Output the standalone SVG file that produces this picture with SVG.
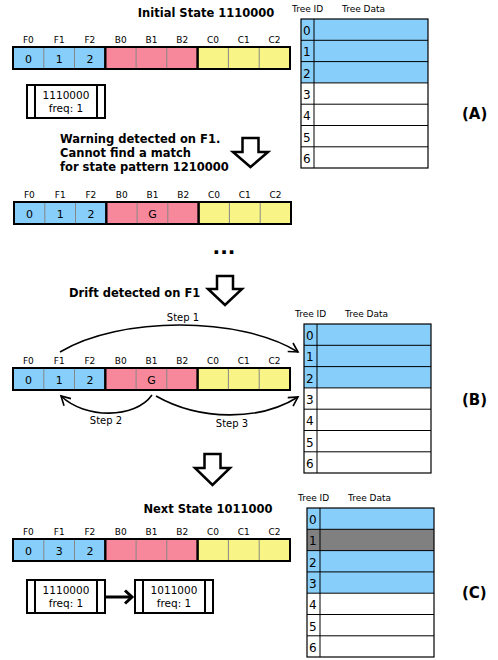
<svg xmlns="http://www.w3.org/2000/svg" width="498" height="660" viewBox="0 0 498 660">
  <style>
    text { font-family: "DejaVu Sans", "Liberation Sans", sans-serif; fill: #000; }
    .lbl { font-size: 9px; text-anchor: middle; }
    .val { font-size: 11px; text-anchor: middle; }
    .title { font-size: 11.5px; font-weight: bold; }
    .mid { text-anchor: middle; }
    .tag { font-size: 15px; font-weight: bold; }
    .hdr { font-size: 9px; }
    .tid { font-size: 12px; }
    .frq { font-size: 10.5px; text-anchor: middle; }
    .step { font-size: 10px; text-anchor: middle; }
    .f { fill: #87cefa; }
    .b { fill: #f7889c; }
    .c { fill: #f8f586; }
    .div { stroke: #888; stroke-width: 1; }
    .grp { stroke: #000; stroke-width: 2; fill: none; }
    .row { stroke: #000; stroke-width: 1; }
    .blue { fill: #87cefa; }
    .gray { fill: #808080; }
    .white { fill: #fff; }
    .block { fill: #fff; stroke: #000; stroke-width: 2.5; stroke-linejoin: miter; }
    .box { fill: #fff; stroke: #000; stroke-width: 2; }
    .arc { fill: none; stroke: #000; stroke-width: 1.6; }
  </style>
  <defs>
    <marker id="open" markerUnits="userSpaceOnUse" markerWidth="14" markerHeight="14" refX="10" refY="6" orient="auto">
      <path d="M1,1 L10,6 L1,11" fill="none" stroke="#000" stroke-width="1.6"/>
    </marker>
    <!-- state vector: three groups of three cells -->
    <g id="bar">
      <rect x="0" y="0" width="92.3" height="22" class="f"/>
      <rect x="92.3" y="0" width="92.3" height="22" class="b"/>
      <rect x="184.6" y="0" width="92.4" height="22" class="c"/>
      <line x1="30.8" y1="0" x2="30.8" y2="22" class="div"/>
      <line x1="61.5" y1="0" x2="61.5" y2="22" class="div"/>
      <line x1="123.1" y1="0" x2="123.1" y2="22" class="div"/>
      <line x1="153.8" y1="0" x2="153.8" y2="22" class="div"/>
      <line x1="215.4" y1="0" x2="215.4" y2="22" class="div"/>
      <line x1="246.2" y1="0" x2="246.2" y2="22" class="div"/>
      <rect x="0" y="0" width="92.3" height="22" class="grp"/>
      <rect x="92.3" y="0" width="92.3" height="22" class="grp"/>
      <rect x="184.6" y="0" width="92.4" height="22" class="grp"/>
      <text class="lbl" x="15.4" y="-4">F0</text>
      <text class="lbl" x="46.2" y="-4">F1</text>
      <text class="lbl" x="76.9" y="-4">F2</text>
      <text class="lbl" x="107.7" y="-4">B0</text>
      <text class="lbl" x="138.5" y="-4">B1</text>
      <text class="lbl" x="169.2" y="-4">B2</text>
      <text class="lbl" x="200" y="-4">C0</text>
      <text class="lbl" x="230.8" y="-4">C1</text>
      <text class="lbl" x="261.5" y="-4">C2</text>
    </g>
    <!-- frequency record box -->
    <g id="freqbox">
      <rect x="0" y="0" width="78" height="33" class="box"/>
      <line x1="8" y1="0" x2="8" y2="33" stroke="#000" stroke-width="2"/>
      <line x1="70" y1="0" x2="70" y2="33" stroke="#000" stroke-width="2"/>
    </g>
    <!-- tree table rows and grid -->
    <g id="grid">
      <line x1="0" y1="21.3" x2="127" y2="21.3" class="row"/>
      <line x1="0" y1="42.6" x2="127" y2="42.6" class="row"/>
      <line x1="0" y1="63.9" x2="127" y2="63.9" class="row"/>
      <line x1="0" y1="85.2" x2="127" y2="85.2" class="row"/>
      <line x1="0" y1="106.5" x2="127" y2="106.5" class="row"/>
      <line x1="0" y1="127.8" x2="127" y2="127.8" class="row"/>
      <line x1="13" y1="0" x2="13" y2="149" class="row"/>
      <rect x="0" y="0" width="127" height="149" fill="none" stroke="#000" stroke-width="1.2"/>
      <text class="tid" x="2" y="16">0</text>
      <text class="tid" x="2" y="37.3">1</text>
      <text class="tid" x="2" y="58.6">2</text>
      <text class="tid" x="2" y="79.9">3</text>
      <text class="tid" x="2" y="101.2">4</text>
      <text class="tid" x="2" y="122.5">5</text>
      <text class="tid" x="2" y="143.8">6</text>
      <text class="hdr" x="-9" y="-7">Tree ID</text>
      <text class="hdr" x="41" y="-7">Tree Data</text>
    </g>
  </defs>

  <!-- (A) initial state -->
  <g id="titleA"><text class="title mid" x="206" y="17">Initial State 1110000</text></g>
  <g id="stateA" transform="translate(13,47)">
    <use href="#bar"/>
    <text class="val" x="15.4" y="15.5">0</text>
    <text class="val" x="46.2" y="15.5">1</text>
    <text class="val" x="76.9" y="15.5">2</text>
  </g>
  <g id="freqA" transform="translate(27,85)">
    <use href="#freqbox"/>
    <text class="frq" x="39" y="14">1110000</text>
    <text class="frq" x="39" y="27">freq: 1</text>
  </g>
  <g id="tableA" transform="translate(301,19)">
    <rect x="0" y="0" width="127" height="63.9" class="blue"/>
    <rect x="0" y="63.9" width="127" height="85.1" class="white"/>
    <use href="#grid"/>
  </g>
  <g id="labelA"><text class="tag" x="462" y="119">(A)</text></g>

  <g id="arrowA"><polygon class="block" points="242.5,138 258.5,138 258.5,152 268,152 250.5,167 233,152 242.5,152"/></g>
  <g id="warning">
    <text class="title" x="60" y="143">Warning detected on F1.</text>
    <text class="title" x="60" y="157">Cannot find a match</text>
    <text class="title" x="60" y="171">for state pattern 1210000</text>
  </g>
  <g id="stateWarn" transform="translate(14,202)">
    <use href="#bar"/>
    <text class="val" x="15.4" y="15.5">0</text>
    <text class="val" x="46.2" y="15.5">1</text>
    <text class="val" x="76.9" y="15.5">2</text>
    <text class="val" x="138.5" y="15.5">G</text>
  </g>
  <g id="ellipsis"><text x="224" y="254" class="mid" font-size="20" font-weight="bold">...</text></g>

  <!-- (B) drift handling -->
  <g id="arrowB"><polygon class="block" points="217,276 233,276 233,289 242,289 225,305 208,289 217,289"/></g>
  <g id="drift"><text class="title" x="69" y="297">Drift detected on F1</text></g>
  <g id="stateB" transform="translate(13,368)">
    <use href="#bar"/>
    <text class="val" x="15.4" y="15.5">0</text>
    <text class="val" x="46.2" y="15.5">1</text>
    <text class="val" x="76.9" y="15.5">2</text>
    <text class="val" x="138.5" y="15.5">G</text>
  </g>
  <g id="tableB" transform="translate(304,324)">
    <rect x="0" y="0" width="127" height="63.9" class="blue"/>
    <rect x="0" y="63.9" width="127" height="85.1" class="white"/>
    <use href="#grid"/>
  </g>
  <g id="labelB"><text class="tag" x="462" y="405">(B)</text></g>

  <g id="connectors">
    <path class="arc" d="M60,352 C120,316 240,316 298,352" marker-end="url(#open)"/>
    <path class="arc" d="M152,395 C135,419 85,419 61,396" marker-end="url(#open)"/>
    <path class="arc" d="M156,396 C200,421 260,421 298,397" marker-end="url(#open)"/>
    <line x1="106" y1="597" x2="130" y2="597" stroke="#000" stroke-width="3"/>
    <polyline points="125,590.5 132,597 125,603.5" fill="none" stroke="#000" stroke-width="3"/>
  </g>
  <g id="stepLabels">
    <text class="step" x="183" y="321">Step 1</text>
    <text class="step" x="106" y="424">Step 2</text>
    <text class="step" x="232" y="427">Step 3</text>
  </g>

  <!-- (C) next state -->
  <g id="arrowC"><polygon class="block" points="204.5,454 220.5,454 220.5,468 230,468 212.5,485 195,468 204.5,468"/></g>
  <g id="titleC"><text class="title mid" x="208" y="513">Next State 1011000</text></g>
  <g id="stateC" transform="translate(13,539)">
    <use href="#bar"/>
    <text class="val" x="15.4" y="15.5">0</text>
    <text class="val" x="46.2" y="15.5">3</text>
    <text class="val" x="76.9" y="15.5">2</text>
  </g>
  <g id="freqC1" transform="translate(27,580)">
    <use href="#freqbox"/>
    <text class="frq" x="39" y="14">1110000</text>
    <text class="frq" x="39" y="27">freq: 1</text>
  </g>
  <g id="freqC2" transform="translate(135,580)">
    <use href="#freqbox"/>
    <text class="frq" x="39" y="14">1011000</text>
    <text class="frq" x="39" y="27">freq: 1</text>
  </g>
  <g id="tableC" transform="translate(307,508)">
    <rect x="0" y="0" width="127" height="21.3" class="blue"/>
    <rect x="0" y="21.3" width="127" height="21.3" class="gray"/>
    <rect x="0" y="42.6" width="127" height="42.6" class="blue"/>
    <rect x="0" y="85.2" width="127" height="63.8" class="white"/>
    <use href="#grid"/>
  </g>
  <g id="labelC"><text class="tag" x="462" y="598">(C)</text></g>
</svg>
